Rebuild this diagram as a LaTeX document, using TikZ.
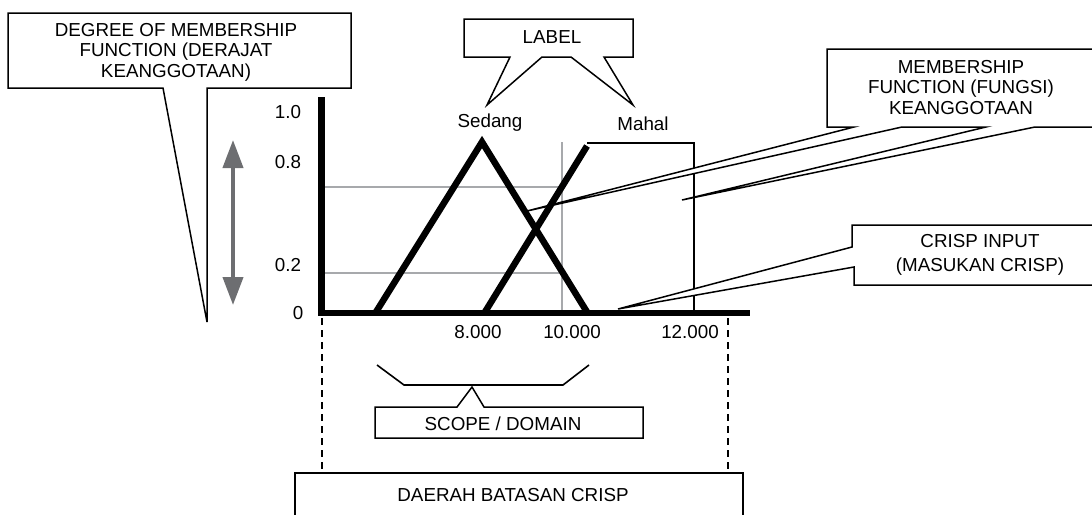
\documentclass[tikz,border=0pt]{standalone}
\usepackage{fontspec}
\setmainfont{Liberation Sans}
\usetikzlibrary{arrows.meta}
\definecolor{arrowgray}{HTML}{6D6E71}
\definecolor{gridgray}{HTML}{A7A9AC}
\tikzset{
  lbl/.style={font=\fontsize{18.8}{20.5}\selectfont, align=center, inner sep=0pt},
  callout/.style={draw=black, line width=1.5pt, fill=white, line join=miter},
  thickline/.style={line width=6.5pt},
  thinline/.style={line width=1.6pt},
  gridline/.style={draw=gridgray, line width=2pt},
  crispdash/.style={line width=1.8pt, dash pattern=on 7pt off 5pt},
  dblarrow/.style={draw=arrowgray, line width=4pt,
     {Triangle[width=20pt,length=28pt]}-{Triangle[width=20pt,length=28pt]}},
}
\begin{document}
\begin{tikzpicture}[x=1pt,y=-1pt]
\useasboundingbox (0,0) rectangle (1092,514);
\clip (0,0) rectangle (1092,514);

% grid lines
\draw[gridline] (323,187) -- (562,187);
\draw[gridline] (323,273) -- (562,273);
\draw[gridline] (562,142) -- (562,312);

% membership functions
\draw[thickline, line join=miter] (376,312) -- (482,142) -- (587,312);
\draw[thickline] (485,312) -- (587,146);
\draw[thinline] (587,143) -- (694,143) -- (694,312);

% axes
\draw[thickline] (321.5,97) -- (321.5,316);
\draw[thickline] (318,313) -- (750,313);

% dashed crisp bounds
\draw[crispdash] (322,318) -- (322,470);
\draw[crispdash] (728,318) -- (728,470);

% double arrow
\draw[dblarrow] (233,140) -- (233,305);

% y labels
\node[lbl] (y10) at (288,112) {1.0};
\node[lbl] (y08) at (288,162) {0.8};
\node[lbl] (y02) at (288,265) {0.2};
\node[lbl] (y00) at (298,313) {0};

% x labels
\node[lbl] (x8) at (478,332) {8.000};
\node[lbl] (x10) at (572,332) {10.000};
\node[lbl] (x12) at (690,332) {12.000};

% curve labels
\node[lbl] (sedang) at (490,123) {Sedang};
\node[lbl] (mahal) at (643,124) {Mahal};

% callout: degree of membership
\draw[callout] (8,13) -- (351,13) -- (351,88) -- (207,88) -- (207,322) -- (163,88) -- (8,88) -- cycle;
\node[lbl] (degree) at (176,52) {DEGREE OF MEMBERSHIP\\FUNCTION (DERAJAT\\KEANGGOTAAN)};

% callout: label
\draw[callout] (464,19) -- (633,19) -- (633,57) -- (604,57) -- (633,105) -- (571,57) -- (542,57) -- (487,105) -- (510,57) -- (464,57) -- cycle;
\node[lbl] (label) at (552,37) {LABEL};

% callout: membership function
\draw[callout] (827,49) -- (1100,49) -- (1100,127) -- (1035,127) -- (682,200) -- (986,127) -- (902,127) -- (527,211) -- (854,127) -- (827,127) -- cycle;
\node[lbl] (mf) at (961,87.5) {MEMBERSHIP\\FUNCTION (FUNGSI)\\KEANGGOTAAN};

% callout: crisp input
\draw[callout] (852,225) -- (1100,225) -- (1100,285) -- (854,285) -- (854,267) -- (618,309) -- (852,247) -- cycle;
\node[lbl] (crisp) at (980,255) {CRISP INPUT\\[3.5pt](MASUKAN CRISP)};

% scope bracket and callout
\draw[thinline, line join=miter] (377,365) -- (404,385) -- (563,385) -- (589,365);
\draw[callout] (375,407) -- (457,407) -- (472,387) -- (484,407) -- (643,407) -- (643,438) -- (375,438) -- cycle;
\node[lbl] (scope) at (503,424) {SCOPE / DOMAIN};

% daerah batasan crisp
\draw[callout] (295,473) rectangle (743,530);
\node[lbl] (daerah) at (513,495) {DAERAH BATASAN CRISP};
\end{tikzpicture}
\end{document}
